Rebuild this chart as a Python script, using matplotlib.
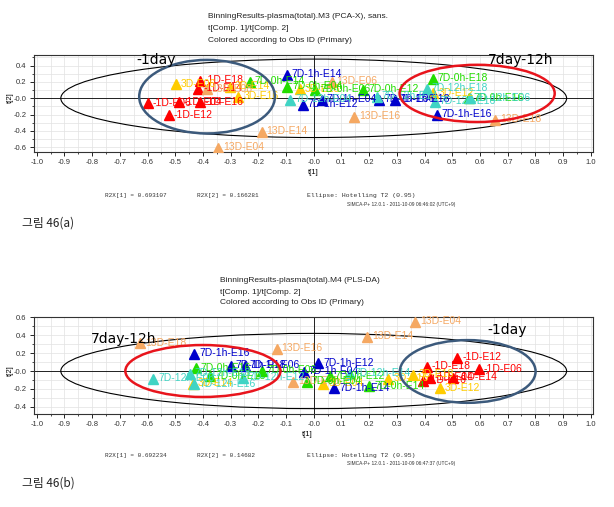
import matplotlib
matplotlib.use('Agg')
import matplotlib.pyplot as plt
from matplotlib.patches import Ellipse
from matplotlib.ticker import MultipleLocator
import numpy as np

W, H = 614, 507

# ---------------- data ----------------
group_colors = {
    "m1D": "#ff0000",
    "3D": "#ffcc00",
    "13D": "#f5a862",
    "7D0h": "#22dd00",
    "7D1h": "#0000cc",
    "7D12h": "#40d4c4",
}

# Panel (a): PCA-X
a_labels = ["-1D-E06", "-1D-E12", "-1D-E04", "-1D-E18", "-1D-E14", "-1D-E16",
            "3D-E06", "3D-E14", "3D-E16", "3D-E18", "3D-E12",
            "13D-E08", "13D-E14", "13D-E04", "13D-E06", "13D-E16", "13D-E18",
            "7D-0h-E14", "7D-0h-E04", "7D-0h-E06", "7D-0h-E12", "7D-0h-E18", "7D-0h-E16",
            "7D-1h-E14", "7D-1h-E12", "7D-1h-E04", "7D-1h-E06", "7D-1h-E18", "7D-1h-E16",
            "7D-12h-E04", "7D-12h-E14", "7D-12h-E18", "7D-12h-E16", "7D-12h-E06"]
a_groups = ["m1D"] * 6 + ["3D"] * 5 + ["13D"] * 6 + ["7D0h"] * 6 + ["7D1h"] * 6 + ["7D12h"] * 5
a_t1 = [-0.599, -0.522, -0.486, -0.410, -0.417, -0.412,
        -0.498, -0.302, -0.272, -0.049, 0.432,
        -0.386, -0.188, -0.344, 0.065, 0.147, 0.655,
        -0.230, -0.095, 0.005, 0.179, 0.430, 0.560,
        -0.098, -0.040, 0.029, 0.236, 0.293, 0.444,
        -0.085, 0.227, 0.408, 0.438, 0.564]
a_t2 = [-0.06, -0.21, -0.05, 0.215, 0.12, -0.05,
        0.17, 0.14, 0.02, 0.11, 0.06,
        0.11, -0.41, -0.61, 0.20, -0.225, -0.265,
        0.20, 0.14, 0.10, 0.10, 0.235, 0.00,
        0.285, -0.08, -0.02, -0.02, -0.02, -0.205,
        -0.02, 0.02, 0.12, -0.04, 0.00]

# Panel (b): PLS-DA
b_labels = ["-1D-E12", "-1D-E18", "-1D-E06", "-1D-E14", "-1D-E04", "-1D-E16",
            "3D-E12", "3D-E16", "3D-E04", "3D-E14", "3D-E18",
            "13D-E04", "13D-E14", "13D-E16", "13D-E18", "13D-E06",
            "7D-1h-E16", "7D-1h-E18", "7D-1h-E06", "7D-1h-E04", "7D-1h-E12", "7D-1h-E14",
            "7D-0h-E16", "7D-0h-E18", "7D-0h-E06", "7D-0h-E04", "7D-0h-E12", "7D-0h-E14",
            "7D-12h-E06", "7D-12h-E18", "7D-12h-E16", "7D-12h-E12", "7D-12h-E14"]
b_groups = ["m1D"] * 6 + ["3D"] * 5 + ["13D"] * 5 + ["7D1h"] * 6 + ["7D0h"] * 6 + ["7D12h"] * 5
b_t1 = [0.518, 0.408, 0.597, 0.504, 0.420, 0.395,
        0.456, 0.270, 0.035, -0.437, 0.360,
        0.366, 0.193, -0.134, -0.627, -0.074,
        -0.431, -0.300, -0.248, -0.035, 0.017, 0.074,
        -0.425, -0.374, -0.188, -0.025, 0.059, 0.200,
        -0.579, -0.447, -0.431, -0.254, 0.131]
b_t2 = [0.15, 0.05, 0.02, -0.08, -0.08, -0.11,
        -0.195, -0.09, -0.14, -0.14, -0.045,
        0.55, 0.38, 0.25, 0.31, -0.12,
        0.19, 0.055, 0.055, -0.01, 0.085, -0.195,
        0.03, -0.06, 0.00, -0.12, -0.06, -0.17,
        -0.09, -0.03, -0.15, -0.08, -0.03]

x_ticks = [round(v, 1) for v in np.arange(-1.0, 1.01, 0.1)]
a_yticks = [0.4, 0.2, 0.0, -0.2, -0.4, -0.6]
a_yticklabels = ["0.4", "0.2", "-0.0", "-0.2", "-0.4", "-0.6"]
b_yticks = [0.6, 0.4, 0.2, 0.0, -0.2, -0.4]
b_yticklabels = ["0.6", "0.4", "0.2", "-0.0", "-0.2", "-0.4"]


def fx(px):
    return px / W


def fy(py):
    return 1 - py / H


fig = plt.figure(figsize=(W / 100, H / 100), dpi=100)
fig.patch.set_facecolor("white")

SANS = ["Liberation Sans", "DejaVu Sans"]
MONO = ["Liberation Mono", "DejaVu Sans Mono"]


def panel(top_px, bottom_px, t1, t2, labels, groups, ylim, yticks, yticklabels,
          hot_b, ell_specs, notes):
    ax = fig.add_axes([fx(33.5), fy(bottom_px), fx(593) - fx(33.5), fy(top_px) - fy(bottom_px)])
    ax.set_xlim(-1.0116, 1.0083)
    ax.set_ylim(*ylim)
    ax.set_xticks(x_ticks)
    ax.set_xticklabels(["%.1f" % v for v in x_ticks])
    ax.set_yticks(yticks)
    ax.set_yticklabels(yticklabels)
    ax.xaxis.set_minor_locator(MultipleLocator(0.05))
    ax.yaxis.set_minor_locator(MultipleLocator(0.1))
    ax.grid(True, which="both", color="#e2e2e2", lw=0.5, zorder=0)
    ax.set_axisbelow(True)
    ax.tick_params(which="major", direction="out", length=3, width=0.6, labelsize=5.5, pad=2)
    ax.tick_params(which="minor", direction="out", length=1.5, width=0.5)
    for lab in ax.get_xticklabels() + ax.get_yticklabels():
        lab.set_family(SANS)
        lab.set_color("#333333")
    for s in ax.spines.values():
        s.set_linewidth(0.8)
        s.set_color("#333333")
    ax.axhline(0, color="black", lw=0.6, zorder=1)
    ax.axvline(0, color="black", lw=0.6, zorder=1)
    # Hotelling T2 ellipse
    ax.add_patch(Ellipse((0, 0), 2 * 0.913, 2 * hot_b, fill=False, ec="black", lw=0.8, zorder=2))
    # points and labels
    for x, y, lab, g in zip(t1, t2, labels, groups):
        c = group_colors[g]
        ax.plot(x, y, marker="^", ms=7.5, color=c, mec=c, ls="none", zorder=4)
        ax.annotate(lab, (x, y), xytext=(3.5, 0.5), textcoords="offset points",
                    fontsize=7.5, color=c, va="center", ha="left", family=SANS,
                    zorder=5, annotation_clip=False)
    # highlight ellipses
    for (cx, cy, w, h, col) in ell_specs:
        ax.add_patch(Ellipse((cx, cy), w, h, fill=False, ec=col, lw=1.8, zorder=6))
    for (tx, ty, txt) in notes:
        ax.text(tx, ty, txt, fontsize=10, color="black", ha="center", va="center",
                family=["DejaVu Sans"], zorder=7)
    ax.set_xlabel("")
    ax.set_ylabel("")
    return ax


RED = "#e8141c"
NAVY = "#3c5a7c"

panel(55, 152, a_t1, a_t2, a_labels, a_groups, (-0.657, 0.53), a_yticks, a_yticklabels, 0.48,
      [(-0.385, 0.02, 0.49, 0.90, NAVY), (0.59, 0.06, 0.56, 0.70, RED)],
      [(-0.569, 0.47, "-1day"), (0.746, 0.47, "7day-12h")])

panel(317, 414, b_t1, b_t2, b_labels, b_groups, (-0.48, 0.603), b_yticks, b_yticklabels, 0.42,
      [(-0.40, 0.0, 0.56, 0.58, RED), (0.556, -0.005, 0.49, 0.70, NAVY)],
      [(-0.685, 0.36, "7day-12h"), (0.70, 0.46, "-1day")])


def ftext(px, py, s, **kw):
    fig.text(fx(px), fy(py), s, **kw)


# headers
for (x0, ys, lines) in [
    (208, (17, 29, 40), ["BinningResults-plasma(total).M3 (PCA-X), sans.",
                         "t[Comp. 1]/t[Comp. 2]",
                         "Colored according to Obs ID (Primary)"]),
    (220, (281, 292, 302), ["BinningResults-plasma(total).M4 (PLS-DA)",
                            "t[Comp. 1]/t[Comp. 2]",
                            "Colored according to Obs ID (Primary)"]),
]:
    for y, s in zip(ys, lines):
        ftext(x0, y, s, fontsize=6, family=SANS, va="center", ha="left", color="#222222")

# axis labels
for (xl, yl, yc) in [((313, 173), (10, 98), None), ((307, 435), (10, 371), None)]:
    ftext(xl[0], xl[1], "t[1]", fontsize=5.5, family=SANS, ha="center", va="center")
    ftext(yl[0], yl[1], "t[2]", fontsize=5.5, family=SANS, ha="center", va="center", rotation=90)

# footers
for (yr, ys, r1, r2, stamp, cap) in [
    (195, 204, "R2X[1] = 0.693107", "R2X[2] = 0.166281",
     "SIMCA-P+ 12.0.1 - 2011-10-09 06:46:02 (UTC+9)", "그림 46(a)"),
    (455, 464, "R2X[1] = 0.692234", "R2X[2] = 0.14682",
     "SIMCA-P+ 12.0.1 - 2011-10-09 06:47:37 (UTC+9)", "그림 46(b)"),
]:
    ftext(105, yr, r1, fontsize=4.3, family=MONO, va="center", ha="left", color="#333333")
    ftext(197, yr, r2, fontsize=4.3, family=MONO, va="center", ha="left", color="#333333")
    ftext(307, yr, "Ellipse: Hotelling T2 (0.95)", fontsize=4.6, family=MONO, va="center",
          ha="left", color="#333333")
    ftext(347, ys, stamp, fontsize=3.5, family=SANS, va="center", ha="left", color="#333333")
    ftext(22, yr + 28, cap, fontsize=8.5, family=["Noto Sans CJK KR", "DejaVu Sans"],
          va="center", ha="left", color="#222222")

fig.savefig("out.png", dpi=100, facecolor="white")
